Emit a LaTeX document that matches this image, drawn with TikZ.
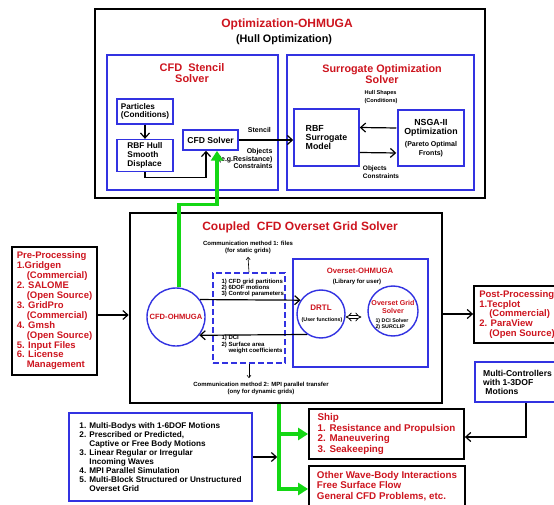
\documentclass[tikz,border=0pt]{standalone}
\usepackage{fontspec}
\setmainfont{Liberation Sans}
\usetikzlibrary{arrows.meta}

\definecolor{ohred}{RGB}{205,20,30}
\definecolor{ohblue}{RGB}{50,50,225}
\definecolor{ohgreen}{RGB}{20,215,20}
\newcommand\fsz[2]{\fontsize{#1}{#2}\selectfont\bfseries}

\begin{document}
\begin{tikzpicture}[x=1pt,y=-1pt,
  bigbox/.style={draw,line width=2.6pt,inner sep=0pt},
  blk/.style={draw,line width=1.8pt},
  bluebox/.style={draw=ohblue,line width=1.5pt},
  circ/.style={circle,draw=ohblue,line width=1.4pt,inner sep=0pt},
  arr/.style={line width=1.2pt,-{Straight Barb[length=5pt,width=9pt]}},
  sarr/.style={line width=0.6pt,-{Straight Barb[length=2.5pt,width=4pt]}},
  garr/.style={draw=ohgreen,line width=3.5pt,-{Triangle[length=10pt,width=12pt]}}]
\useasboundingbox (0,0) rectangle (554,505);

% Nodes (optimization)
\node[bigbox,minimum width=390,minimum height=189] (opt) at (290,103.5) {};
\node[font=\fsz{12}{14},text=ohred] (opttitle) at (287,24) {Optimization-OHMUGA};
\node[font=\fsz{10.8}{12}] (optsub) at (284,40) {(Hull Optimization)};
\node[bluebox,minimum width=171,minimum height=135] (stencil) at (192.5,122.5) {};
\node[font=\fsz{11}{11},text=ohred,align=center] (stenciltitle) at (192,73) {CFD\ \ Stencil\\Solver};
\node[bluebox,minimum width=187,minimum height=135] (surr) at (380.5,122.5) {};
\node[font=\fsz{10.8}{11},text=ohred,align=center] (surrtitle) at (382,74) {Surrogate Optimization\\Solver};
\node[bluebox,minimum width=56,minimum height=25,font=\fsz{8.2}{8.7},align=left] (part) at (145,111.5) {Particles\\(Conditions)};
\node[bluebox,minimum width=56,minimum height=31,font=\fsz{8.3}{8.7},align=left] (rbfhull) at (145,155.5) {RBF Hull\\Smooth\\Displace};
\node[bluebox,minimum width=55,minimum height=20,font=\fsz{8.6}{9}] (cfdsolver) at (210.5,140) {CFD Solver};
\node[bluebox,minimum width=65,minimum height=57,font=\fsz{8.8}{9},align=left] (rbfsur) at (326.5,137.5) {RBF\\Surrogate\\Model};
\node[bluebox,minimum width=66,minimum height=56,font=\fsz{8.8}{9.5},align=center] (nsga) at (431,138) {NSGA-II\\Optimization\\[2pt]{\fsz{7}{7}(Pareto Optimal}\\{\fsz{7}{7}Fronts)}};
\node[font=\fsz{7}{7.5},align=right,anchor=north east] (objlbl) at (276,145) {Objects\\(e.g.Resistance)\\Constraints};
\node[font=\fsz{5.6}{7.5},align=left] (hulllbl) at (381,97) {Hull Shapes\\(Conditions)};
\node[font=\fsz{6.5}{7.5},align=left] (objcons) at (381,172) {Objects\\Constraints};

% Edges (optimization)
\draw[arr] (part) -- (rbfhull);
\draw[arr] (rbfhull.south) -- ++(0,5.5) -| ([xshift=-4.5pt]cfdsolver.south);
\draw[arr] (cfdsolver.east) -- (cfdsolver.east -| rbfsur.west) node[pos=0.38,above=3pt,font=\fsz{7}{7}] {Stencil};
\draw[arr,shorten <=1pt] ([yshift=10pt]nsga.west) -- ([yshift=10pt]rbfsur.east);
\draw[arr,shorten >=1pt] ([yshift=-15pt]rbfsur.east) -- ([yshift=-15pt]nsga.west);

% Nodes (coupled solver)
\node[bigbox,minimum width=312,minimum height=190] (coupled) at (286,308) {};
\node[font=\fsz{12}{14},text=ohred] (coupledtitle) at (300,227) {Coupled\ \ CFD Overset Grid Solver};
\node[circ,minimum size=58,font=\fsz{7.6}{8},text=ohred] (cfdoh) at (176,317) {CFD-OHMUGA};
\node[draw=ohblue,line width=1.5pt,dash pattern=on 6pt off 3pt,minimum width=72,minimum height=90] (dashbox) at (249,318) {};
\node[font=\fsz{6}{6.2},align=left,anchor=west] (dashtop) at (218,288) {1) CFD grid partitions\\2) 6DOF motions\\3) Control parameters};
\node[font=\fsz{6}{6.4},align=left,anchor=west] (dashbot) at (218,344.5) {1) DCI\\2) Surface area\\\hspace*{7pt}weight coefficients};
\node[font=\fsz{6}{7},align=center] (comm1) at (248,247) {Communication method 1: files\\(for static grids)};
\node[font=\fsz{6}{7},align=center] (comm2) at (261,388) {Communication method 2: MPI parallel transfer\\(ony for dynamic grids)};
\node[bluebox,minimum width=135,minimum height=108] (overset) at (360.5,313) {};
\node[font=\fsz{7.7}{8},text=ohred] (oversettitle) at (360,271) {Overset-OHMUGA};
\node[font=\fsz{6}{6}] (oversetsub) at (357,282) {(Library for user)};
\node[circ,minimum size=48] (drtl) at (321,314) {};
\node[font=\fsz{8}{8},text=ohred] (drtlname) at (321,308) {DRTL};
\node[font=\fsz{5.3}{5.5}] (drtlsub) at (322,320) {(User functions)};
\node[circ,minimum size=50] (ogs) at (393,311) {};
\node[font=\fsz{7.1}{8},text=ohred,align=center] (ogsname) at (393,307) {Overset Grid\\Solver};
\node[font=\fsz{5.3}{5.5},align=left] (ogssub) at (392,324) {1) DCI Solver\\2) SURCLIP};

% Edges (coupled solver)
\draw[arr] (cfdoh.36) -- (drtl.146);
\draw[arr] (drtl.236) -- (cfdoh.-38);
\draw[line width=0.8pt,double,double distance=2.2pt,{Implies}-{Implies},shorten >=6pt] ([yshift=-3pt]drtl.east) -- ([yshift=-6pt]ogs.west);
\draw[sarr] (dashbox.north) -- (comm1.south);
\draw[sarr] (dashbox.south) -- (dashbox.south |- comm2.north);
\draw[garr] ([xshift=3pt]cfdoh.north) -- ++(0,-83) -| ([xshift=6.5pt]cfdsolver.south);

% Nodes (pre, post, cases)
\node[blk,minimum width=85,minimum height=128,align=left,font=\fsz{9.5}{9.9},text=ohred] (pre) at (54.5,311) {Pre-Processing\\1.Gridgen\\\hspace*{10pt}(Commercial)\\2. SALOME\\\hspace*{10pt}(Open Source)\\3. GridPro\\\hspace*{10pt}(Commercial)\\4. Gmsh\\\hspace*{10pt}(Open Source)\\5. Input Files\\6. License\\\hspace*{10pt}Management};
\node[blk,minimum width=86,minimum height=57,align=left,font=\fsz{9.5}{9.9},text=ohred] (post) at (517,314.5) {Post-Processing\\1.Tecplot\\\hspace*{10pt}(Commercial)\\2. ParaView\\\hspace*{10pt}(Open Source)};
\node[bluebox,minimum width=85,minimum height=40,align=left,font=\fsz{8.6}{9}] (multi) at (517.5,382) {Multi-Controllers\\with 1-3DOF\\\ Motions};
\node[blk,minimum width=155,minimum height=50,align=left,font=\fsz{9.8}{10.4},text=ohred] (ship) at (386.5,434) {Ship\\1. Resistance and Propulsion\\2. Maneuvering\\3. Seakeeping};
\node[blk,minimum width=156,minimum height=40,align=left,font=\fsz{9.8}{10.6},text=ohred] (other) at (387,486) {Other Wave-Body Interactions\\Free Surface Flow\\General CFD Problems, etc.};
\node[bluebox,minimum width=183,minimum height=88,align=left,font=\fsz{8.2}{9}] (list) at (160.5,457) {1. Multi-Bodys with 1-6DOF Motions\\2. Prescribed or Predicted,\\\hspace*{10pt}Captive or Free Body Motions\\3. Linear Regular or Irregular\\\hspace*{10pt}Incoming Waves\\4. MPI Parallel Simulation\\5. Multi-Block Structured or Unstructured\\\hspace*{10pt}Overset Grid};
\coordinate (gtop) at ([xshift=-7pt]coupled.south);

% Edges (pre, post, cases)
\draw[arr] ([yshift=-4pt]pre.east) -- ([yshift=-7pt]coupled.west);
\draw[arr] ([yshift=-6pt]coupled.east) -- ([yshift=0.5pt]post.west);
\draw[arr] ([xshift=8.5pt]multi.south) |- ([yshift=-3pt]ship.east);
\draw[garr] (gtop) |- (ship.west);
\draw[garr] (gtop) |- ([yshift=-3pt]other.west);
\draw[arr,shorten >=1.8pt] (list.east) -- (list.east -| gtop);
\end{tikzpicture}
\end{document}
